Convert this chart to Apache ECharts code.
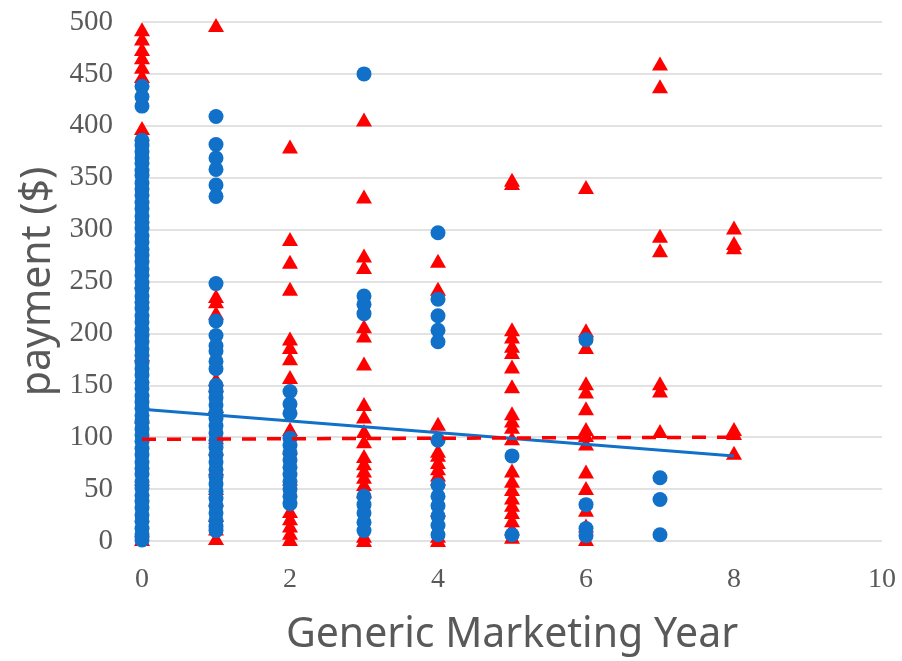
<!DOCTYPE html>
<html>
<head>
<meta charset="utf-8">
<script src="https://cdn.jsdelivr.net/npm/echarts@6/dist/echarts.min.js"></script>
<style>
  html, body { margin: 0; padding: 0; background: #fff; }
  #chart { width: 902px; height: 661px; }
</style>
</head>
<body>
<div id="chart"></div>
<script>
// payment values, one list per marketing year (0..8)
var years = [0, 1, 2, 3, 4, 5, 6, 7, 8];

var redValues = [
  [493, 484, 474, 466, 457, 448, 398, 250, 180, 120, 60, 10, 2],
  [497, 236, 231, 220, 156, 150, 130, 100, 89, 70, 51, 40, 25, 12, 3],
  [380, 291, 269, 243, 195, 187, 176, 158, 108, 90, 60, 29, 22, 15, 8, 2],
  [406, 332, 275, 264, 207, 198, 171, 132, 120, 106, 96, 82, 75, 68, 62, 55, 48, 5, 1],
  [270, 243, 113, 87, 83, 76, 70, 64, 60, 30, 5, 1],
  [348, 345, 204, 197, 188, 182, 168, 149, 123, 116, 110, 99, 68, 58, 50, 42, 35, 28, 20, 12, 4],
  [341, 203, 187, 152, 144, 128, 108, 102, 94, 67, 51, 30, 15, 2],
  [460, 438, 294, 280, 152, 145, 106],
  [302, 287, 283, 108, 104, 85]
];

var blueValues = [
  [438, 428, 419, 386, 381, 375, 369, 364, 357, 352, 345, 339, 333, 326, 320, 313, 307, 301, 294,
   288, 281, 275, 269, 262, 256, 249, 243, 236, 230, 224, 217, 211, 204, 198, 192, 185, 179, 172,
   166, 160, 153, 147, 140, 134, 128, 121, 115, 108, 102, 96, 89, 83, 76, 70, 64, 57, 51, 44, 38,
   32, 25, 19, 12, 6, 1],
  [409, 382, 369, 358, 343, 332, 248, 212, 198, 188, 183, 173, 166, 150, 144, 138, 131, 124, 118,
   111, 104, 97, 90, 83, 76, 69, 62, 55, 48, 41, 34, 27, 20, 14, 10],
  [144, 132, 123, 99, 92, 85, 78, 71, 64, 57, 50, 43, 36],
  [450, 236, 228, 219, 43, 35, 27, 18, 10],
  [297, 233, 217, 203, 192, 97, 54, 43, 34, 24, 15, 6],
  [82, 6],
  [194, 35, 12, 5],
  [61, 40, 6],
  []
];

// linear trend lines (start year, end year)
var trendYears = [0, 8];
var blueTrend = [127, 82];
var redTrend = [98, 100];

function toPoints(valuesByYear) {
  var pts = [];
  valuesByYear.forEach(function (vals, i) {
    vals.forEach(function (v) { pts.push([years[i], v]); });
  });
  return pts;
}

function trendPoints(vals) {
  return trendYears.map(function (x, i) { return [x, vals[i]]; });
}

var chart = echarts.init(document.getElementById('chart'));
chart.setOption({
  animation: false,
  grid: { left: 142, right: 20, top: 22, bottom: 118 },
  xAxis: {
    type: 'value',
    min: 0,
    max: 10,
    interval: 2,
    name: 'Generic Marketing Year',
    nameLocation: 'middle',
    nameGap: 74,
    nameTextStyle: { fontFamily: 'Noto Sans', fontSize: 41, color: '#595959' },
    axisLine: { show: false },
    axisTick: { show: false },
    splitLine: { show: false },
    axisLabel: { fontFamily: 'Liberation Serif', fontSize: 28, color: '#595959', margin: 25 }
  },
  yAxis: {
    type: 'value',
    min: 0,
    max: 500,
    interval: 50,
    name: 'payment ($)',
    nameLocation: 'middle',
    nameGap: 76,
    nameTextStyle: { fontFamily: 'Noto Sans', fontSize: 41, color: '#595959' },
    axisLine: { show: false },
    axisTick: { show: false },
    splitLine: { lineStyle: { color: '#D9D9D9', width: 1.5 } },
    axisLabel: { fontFamily: 'Liberation Serif', fontSize: 29, color: '#595959', margin: 29 }
  },
  series: [
    {
      name: 'red',
      type: 'scatter',
      symbol: 'triangle',
      symbolSize: [16, 14],
      itemStyle: { color: '#FF0000', opacity: 1 },
      data: toPoints(redValues),
      z: 2
    },
    {
      name: 'blue',
      type: 'scatter',
      symbol: 'circle',
      symbolSize: 15,
      itemStyle: { color: '#1170C8', opacity: 1 },
      data: toPoints(blueValues),
      z: 3
    },
    {
      name: 'blue trend',
      type: 'line',
      showSymbol: false,
      lineStyle: { color: '#1170C8', width: 3 },
      data: trendPoints(blueTrend),
      z: 4
    },
    {
      name: 'red trend',
      type: 'line',
      showSymbol: false,
      lineStyle: { color: '#FF0000', width: 3.5, type: [14, 11] },
      data: trendPoints(redTrend),
      z: 4
    }
  ]
});
</script>
</body>
</html>
